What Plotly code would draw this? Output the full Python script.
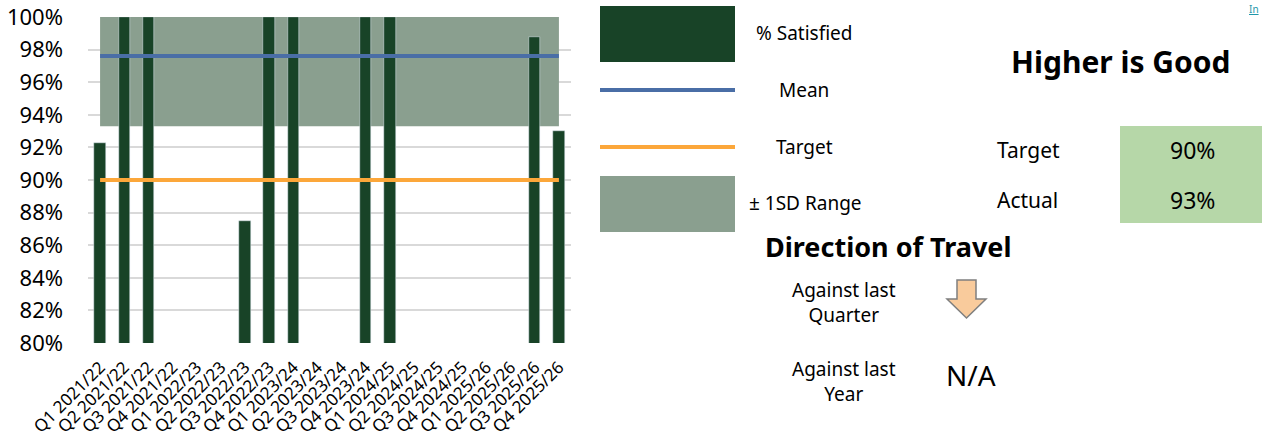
import plotly.graph_objects as go

# ---------------- data ----------------
categories = ["Q1 2021/22", "Q2 2021/22", "Q3 2021/22", "Q4 2021/22",
              "Q1 2022/23", "Q2 2022/23", "Q3 2022/23", "Q4 2022/23",
              "Q1 2023/24", "Q2 2023/24", "Q3 2023/24", "Q4 2023/24",
              "Q1 2024/25", "Q2 2024/25", "Q3 2024/25", "Q4 2024/25",
              "Q1 2025/26", "Q2 2025/26", "Q3 2025/26", "Q4 2025/26"]
pct_satisfied = [92.3, 100, 100, None,
                 None, None, 87.5, 100,
                 100, None, None, 100,
                 100, None, None, None,
                 None, None, 98.8, 93.0]
mean_value = 97.6
target_value = 90.0
sd_lower = 93.3
sd_upper = 100.0
y_ticks = [80, 82, 84, 86, 88, 90, 92, 94, 96, 98, 100]
y_tick_text = [f"{v}%" for v in y_ticks]

target_text = "90%"
actual_text = "93%"
dot_year_text = "N/A"

# ---------------- style ----------------
FONT = "Noto Sans"
BAR_C = "#184327"
MEAN_C = "#4A6EA6"
TARGET_C = "#FCA73A"
BAND_C = "#8A9F8F"
GRID_C = "#D9D9D9"
BOX_C = "#B6D7A8"
ARROW_C = "#F9CB9C"

W_FIG, H_FIG = 1262, 444
L, T, W, H = 88, 17, 483, 326


def px(x):
    return (x - L) / W


def py(y):
    return (T + H - y) / H


fig = go.Figure()

fig.add_trace(go.Bar(x=categories, y=pct_satisfied, marker_color=BAR_C,
                     width=0.47, name="% Satisfied", showlegend=False))
fig.add_trace(go.Scatter(x=categories, y=[target_value] * len(categories),
                         mode="lines", line=dict(color=TARGET_C, width=4),
                         name="Target", showlegend=False))
fig.add_trace(go.Scatter(x=categories, y=[mean_value] * len(categories),
                         mode="lines", line=dict(color=MEAN_C, width=4),
                         name="Mean", showlegend=False))

shapes = []
# +/- 1SD band behind the bars
shapes.append(dict(type="rect", xref="x", yref="y", x0=0, x1=len(categories) - 1,
                   y0=sd_lower, y1=sd_upper, fillcolor=BAND_C,
                   line=dict(width=0), layer="between"))

# legend swatches
shapes.append(dict(type="rect", xref="paper", yref="paper", x0=px(600), x1=px(735),
                   y0=py(62), y1=py(6), fillcolor=BAR_C, line=dict(width=0)))
shapes.append(dict(type="line", xref="paper", yref="paper", x0=px(600), x1=px(735),
                   y0=py(90), y1=py(90), line=dict(color=MEAN_C, width=4)))
shapes.append(dict(type="line", xref="paper", yref="paper", x0=px(600), x1=px(735),
                   y0=py(147), y1=py(147), line=dict(color=TARGET_C, width=4)))
shapes.append(dict(type="rect", xref="paper", yref="paper", x0=px(600), x1=px(735),
                   y0=py(232), y1=py(176), fillcolor=BAND_C, line=dict(width=0)))

# green value box
shapes.append(dict(type="rect", xref="paper", yref="paper", x0=px(1120), x1=px(1262),
                   y0=py(223), y1=py(126), fillcolor=BOX_C, line=dict(width=0)))

# down arrow
pts = [(957, 280), (976, 280), (976, 299), (986, 299), (966.5, 318),
       (947, 299), (957, 299)]
path = "M " + " L ".join(f"{px(a):.5f},{py(b):.5f}" for a, b in pts) + " Z"
shapes.append(dict(type="path", xref="paper", yref="paper", path=path,
                   fillcolor=ARROW_C, line=dict(color="#7F7F7F", width=1.5)))

annotations = []


def txt(text, x, y, size, bold=False, anchor="center", color="#000000"):
    annotations.append(dict(text=f"<b>{text}</b>" if bold else text,
                            xref="paper", yref="paper", x=px(x), y=py(y),
                            xanchor=anchor, yanchor="middle", showarrow=False,
                            font=dict(family=FONT, size=size, color=color)))


txt("% Satisfied", 804, 33, 19)
txt("Mean", 804, 90, 19)
txt("Target", 804, 147, 19)
txt("± 1SD Range", 805, 203, 19)

txt("Higher is Good", 1121, 62, 30, bold=True)
txt("Target", 1028, 150, 21)
txt("Actual", 1027, 200, 21)
txt(target_text, 1192, 150, 23)
txt(actual_text, 1192, 200, 23)

txt("Direction of Travel", 888, 247, 27, bold=True)
txt("Against last<br>Quarter", 844, 302, 19)
txt("Against last<br>Year", 844, 381, 19)
txt(dot_year_text, 971, 375, 28)

annotations.append(dict(text="<u>In</u>", xref="paper", yref="paper",
                        x=px(1261), y=py(0), xanchor="right", yanchor="top",
                        showarrow=False,
                        font=dict(family=FONT, size=10, color="#1F97AA")))

fig.update_layout(
    width=W_FIG, height=H_FIG,
    margin=dict(l=L, r=W_FIG - L - W, t=T, b=H_FIG - T - H, pad=0),
    paper_bgcolor="white", plot_bgcolor="white",
    showlegend=False, bargap=0,
    shapes=shapes, annotations=annotations,
    font=dict(family=FONT, color="#000000"),
    xaxis=dict(type="category", categoryorder="array", categoryarray=categories,
               tickangle=-45, tickfont=dict(family=FONT, size=17, color="#000000"),
               showgrid=False, showline=False, zeroline=False, ticks="",
               ticklabelstandoff=10, automargin=False),
    yaxis=dict(range=[80, 100], tickmode="array", tickvals=y_ticks,
               ticktext=y_tick_text,
               tickfont=dict(family=FONT, size=22, color="#000000"),
               showgrid=True, gridcolor=GRID_C, gridwidth=1.5,
               showline=False, zeroline=False, ticks="", ticklabelstandoff=24,
               automargin=False),
)

fig.write_html("out.html", config={"displayModeBar": False},
               post_script="document.body.style.margin='0';"
                           "document.body.style.overflow='hidden';")
